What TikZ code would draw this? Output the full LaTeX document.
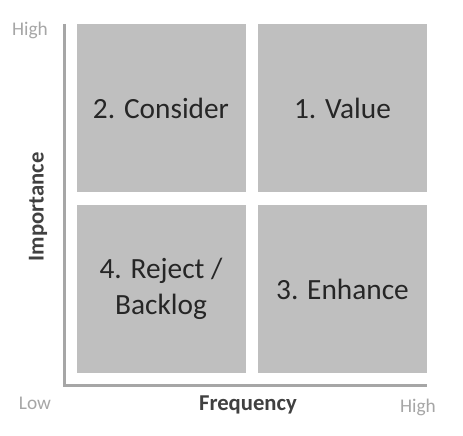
\documentclass[tikz,border=0pt]{standalone}
\usepackage{fontspec}
\setmainfont{Carlito}
\usepackage{tikz}
\usetikzlibrary{positioning}
\definecolor{boxgray}{HTML}{BFBFBF}
\definecolor{axisgray}{HTML}{A6A6A6}
\definecolor{textgray}{HTML}{262626}
\definecolor{labelgray}{HTML}{404040}
\tikzset{x=0.75pt,y=-0.75pt}
\tikzset{quadrant/.style={fill=boxgray,draw=none,minimum width=126.75pt,minimum height=126pt,
  text=textgray,font=\fontsize{22}{27}\selectfont,align=center,inner sep=0pt}}
\tikzset{endlabel/.style={text=axisgray,font=\fontsize{14.5}{17}\selectfont,inner sep=0pt}}
\tikzset{axislabel/.style={text=labelgray,font=\bfseries\fontsize{17}{20}\selectfont,inner sep=0pt}}

\begin{document}
\begin{tikzpicture}
		\useasboundingbox (0,0) rectangle (463,435);
		% quadrants
		\node[quadrant] (consider) at (161,108) {2. Consider};
		\node[quadrant] (value) at (342.5,108) {1. Value};
		\node[quadrant] (reject) at (161,289) {4. Reject /\\Backlog};
		\node[quadrant] (enhance) at (342.5,289) {3. Enhance};
		% axes
		\coordinate (ytop) at (64.5,24);
		\coordinate (origin) at (64.5,385);
		\coordinate (xend) at (427,385);
		\draw[axisgray,line width=2.25pt] (ytop) -- (origin) -- (xend);
		% labels
		\node[endlabel] (yhigh) at (30,30) {High};
		\node[endlabel] (xlow) at (35,403) {Low};
		\node[endlabel] (xhigh) at (418,407) {High};
		\node[axislabel,rotate=90] (importance) at (38,207) {Importance};
		\node[axislabel] (frequency) at (248,405) {Frequency};
\end{tikzpicture}
\end{document}
